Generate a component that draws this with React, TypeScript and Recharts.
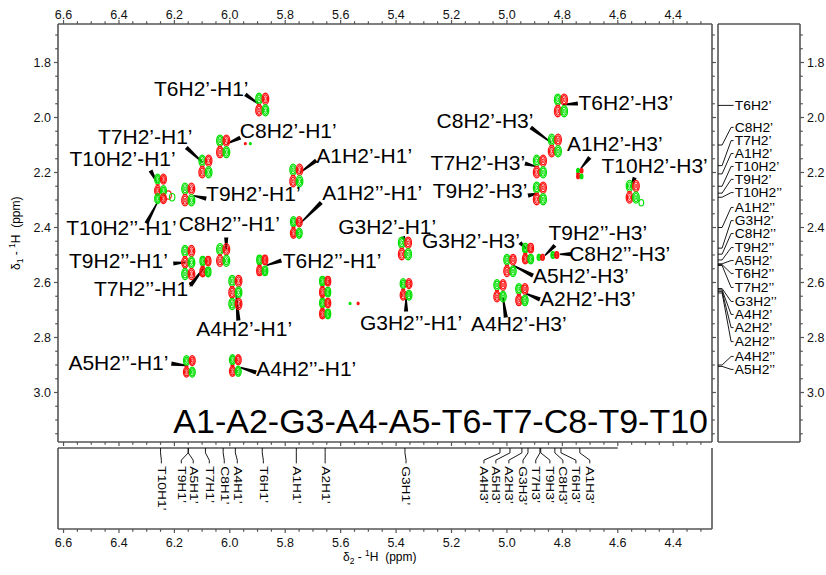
import React from "react";
import { ScatterChart, Scatter, XAxis, YAxis, ReferenceLine } from "recharts";

const FONT = "'Liberation Sans', Arial, Helvetica, sans-serif";
const AXIS = "#555";
const GREEN = "#00e000";
const RED = "#ff1010";

// axis ranges (ppm)
const X_DOMAIN: [number, number] = [4.26, 6.62];
const Y_DOMAIN: [number, number] = [1.66, 3.18];

// tick positions every 0.05 ppm, labels on the 0.2 ones
const xTicks = Array.from({ length: 47 }, (_, i) => +(6.6 - i * 0.05).toFixed(2));
const yTicks = Array.from({ length: 30 }, (_, i) => +(1.7 + i * 0.05).toFixed(2));

// cross peaks: H2'/H2'' (y) against H1' (x)
const h1Peaks = [
  { id: "T6H2'-H1'", x: 5.883, y: 1.953, rows: 2, amp: 1 },
  { id: "C8H2'-H1'", x: 6.024, y: 2.105, rows: 2, amp: 1 },
  { id: "T7H2'-H1'", x: 6.088, y: 2.178, rows: 2, amp: 1 },
  { id: "T10H2'-H1'", x: 6.25, y: 2.245, rows: 2, amp: 0.9 },
  { id: "T10H2''-H1'", x: 6.25, y: 2.295, rows: 1, amp: 0.9 },
  { id: "T9H2'-H1'", x: 6.15, y: 2.28, rows: 2, amp: 1 },
  { id: "A1H2'-H1'", x: 5.76, y: 2.211, rows: 2, amp: 1 },
  { id: "A1H2''-H1'", x: 5.76, y: 2.4, rows: 2, amp: 0.9 },
  { id: "G3H2'-H1'", x: 5.368, y: 2.476, rows: 2, amp: 1 },
  { id: "C8H2''-H1'", x: 6.024, y: 2.5, rows: 2, amp: 1 },
  { id: "T9H2''-H1'", x: 6.15, y: 2.527, rows: 3, amp: 1 },
  { id: "T7H2''-H1'", x: 6.088, y: 2.542, rows: 2, amp: 0.85 },
  { id: "T6H2''-H1'", x: 5.883, y: 2.538, rows: 2, amp: 0.85 },
  { id: "A4H2'-H1'", x: 5.98, y: 2.636, rows: 3, amp: 1 },
  { id: "A2H2'-H1'", x: 5.656, y: 2.655, rows: 4, amp: 0.85 },
  { id: "G3H2''-H1'", x: 5.364, y: 2.625, rows: 2, amp: 0.9 },
  { id: "A5H2''-H1'", x: 6.146, y: 2.905, rows: 2, amp: 0.9 },
  { id: "A4H2''-H1'", x: 5.98, y: 2.902, rows: 2, amp: 0.9 },
];

// cross peaks: H2'/H2'' (y) against H3' (x)
const h3Peaks = [
  { id: "T6H2'-H3'", x: 4.805, y: 1.956, rows: 2, amp: 1 },
  { id: "C8H2'-H3'", x: 4.827, y: 2.102, rows: 2, amp: 1 },
  { id: "A1H2'-H3'", x: 4.737, y: 2.204, rows: 2, amp: 0.4 },
  { id: "T7H2'-H3'", x: 4.881, y: 2.178, rows: 2, amp: 1 },
  { id: "T9H2'-H3'", x: 4.881, y: 2.276, rows: 2, amp: 1 },
  { id: "T10H2'-H3'", x: 4.546, y: 2.27, rows: 2, amp: 1 },
  { id: "G3H2'-H3'", x: 4.924, y: 2.495, rows: 2, amp: 0.85 },
  { id: "T9H2''-H3'", x: 4.878, y: 2.508, rows: 1, amp: 0.55 },
  { id: "C8H2''-H3'", x: 4.827, y: 2.5, rows: 1, amp: 0.6 },
  { id: "A5H2'-H3'", x: 4.989, y: 2.538, rows: 2, amp: 0.95 },
  { id: "A4H2'-H3'", x: 5.025, y: 2.63, rows: 2, amp: 0.95 },
  { id: "A2H2'-H3'", x: 4.946, y: 2.644, rows: 2, amp: 0.95 },
];

// weak single contours and noise
const weakSignals = [
  { x: 6.222, y: 2.282, c: "r", amp: 0.9 },
  { x: 6.208, y: 2.29, c: "g", amp: 0.8 },
  { x: 4.515, y: 2.31, c: "g", amp: 0.7 },
  { x: 5.944, y: 2.095, c: "r", amp: 0.25 },
  { x: 5.926, y: 2.095, c: "g", amp: 0.25 },
  { x: 5.566, y: 2.676, c: "g", amp: 0.25 },
  { x: 5.537, y: 2.676, c: "r", amp: 0.3 },
];

// peak annotations: text centre (lx, ly), leader from (sx, sy) to (ex, ey)
const peakNotes = [
  { text: "T6H2’-H1’", lx: 6.103, ly: 1.895, sx: 5.944, sy: 1.916, ex: 5.897, ey: 1.95 },
  { text: "C8H2’-H1’", lx: 5.789, ly: 2.047, sx: 5.962, sy: 2.073, ex: 6.01, ey: 2.095 },
  { text: "T7H2’-H1’", lx: 6.305, ly: 2.069, sx: 6.157, sy: 2.109, ex: 6.098, ey: 2.164 },
  { text: "T10H2’-H1’", lx: 6.387, ly: 2.15, sx: 6.286, sy: 2.193, ex: 6.266, ey: 2.232 },
  { text: "T10H2’’-H1’", lx: 6.391, ly: 2.4, sx: 6.301, sy: 2.385, ex: 6.262, ey: 2.31 },
  { text: "T9H2’-H1’", lx: 5.915, ly: 2.276, sx: 6.085, sy: 2.295, ex: 6.132, ey: 2.284 },
  { text: "A1H2’-H1’", lx: 5.515, ly: 2.138, sx: 5.688, sy: 2.156, ex: 5.746, ey: 2.2 },
  { text: "A1H2’’-H1’", lx: 5.486, ly: 2.273, sx: 5.67, sy: 2.309, ex: 5.746, ey: 2.385 },
  { text: "C8H2’’-H1’", lx: 6.002, ly: 2.385, sx: 6.013, sy: 2.436, ex: 6.013, ey: 2.48 },
  { text: "T9H2’’-H1’", lx: 6.402, ly: 2.52, sx: 6.204, sy: 2.531, ex: 6.16, ey: 2.527 },
  { text: "T7H2’’-H1’", lx: 6.312, ly: 2.622, sx: 6.142, sy: 2.611, ex: 6.095, ey: 2.549 },
  { text: "T6H2’’-H1’", lx: 5.631, ly: 2.52, sx: 5.814, sy: 2.52, ex: 5.868, ey: 2.538 },
  { text: "A4H2’-H1’", lx: 5.948, ly: 2.767, sx: 5.969, sy: 2.738, ex: 5.977, ey: 2.645 },
  { text: "G3H2’-H1’", lx: 5.432, ly: 2.396, sx: 5.375, sy: 2.433, ex: 5.368, ey: 2.451 },
  { text: "G3H2’’-H1’", lx: 5.346, ly: 2.745, sx: 5.364, sy: 2.705, ex: 5.364, ey: 2.658 },
  { text: "A5H2’’-H1’", lx: 6.402, ly: 2.891, sx: 6.211, sy: 2.895, ex: 6.157, ey: 2.902 },
  { text: "A4H2’’-H1’", lx: 5.724, ly: 2.913, sx: 5.905, sy: 2.927, ex: 5.962, ey: 2.909 },
  { text: "T6H2’-H3’", lx: 4.571, ly: 1.945, sx: 4.744, sy: 1.949, ex: 4.798, ey: 1.953 },
  { text: "C8H2’-H3’", lx: 5.079, ly: 2.011, sx: 4.914, sy: 2.036, ex: 4.841, ey: 2.091 },
  { text: "A1H2’-H3’", lx: 4.611, ly: 2.095, sx: 4.701, sy: 2.145, ex: 4.733, ey: 2.185 },
  { text: "T7H2’-H3’", lx: 5.105, ly: 2.164, sx: 4.935, sy: 2.167, ex: 4.896, ey: 2.178 },
  { text: "T9H2’-H3’", lx: 5.097, ly: 2.265, sx: 4.924, sy: 2.284, ex: 4.888, ey: 2.276 },
  { text: "T10H2’-H3’", lx: 4.467, ly: 2.175, sx: 4.539, sy: 2.218, ex: 4.553, ey: 2.255 },
  { text: "G3H2’-H3’", lx: 5.13, ly: 2.447, sx: 4.953, sy: 2.455, ex: 4.932, ey: 2.476 },
  { text: "T9H2’’-H3’", lx: 4.672, ly: 2.417, sx: 4.827, sy: 2.465, ex: 4.863, ey: 2.502 },
  { text: "C8H2’’-H3’", lx: 4.593, ly: 2.496, sx: 4.769, sy: 2.497, ex: 4.809, ey: 2.497 },
  { text: "A5H2’-H3’", lx: 4.733, ly: 2.575, sx: 4.906, sy: 2.575, ex: 4.978, ey: 2.538 },
  { text: "A4H2’-H3’", lx: 4.957, ly: 2.749, sx: 5.004, sy: 2.727, ex: 5.014, ey: 2.655 },
  { text: "A2H2’-H3’", lx: 4.708, ly: 2.658, sx: 4.881, sy: 2.662, ex: 4.932, ey: 2.64 },
];

// 1D projection, side: H2'/H2'' shifts and where their labels sit
const sideNames = ["T6H2’", "C8H2’", "T7H2’", "A1H2’", "T10H2’", "T9H2’", "T10H2’’", "A1H2’’", "G3H2’", "C8H2’’",
  "T9H2’’", "A5H2’", "T6H2’’", "T7H2’’", "G3H2’’", "A4H2’", "A2H2’", "A2H2’’", "A4H2’’", "A5H2’’"];
const sideShifts = [1.956, 2.1, 2.175, 2.205, 2.25, 2.275, 2.29, 2.4, 2.475, 2.497,
  2.518, 2.532, 2.535, 2.538, 2.622, 2.627, 2.632, 2.638, 2.9, 2.905];
const sideLabelY = [1.956, 2.036, 2.084, 2.131, 2.178, 2.225, 2.273, 2.327, 2.375, 2.422,
  2.473, 2.52, 2.567, 2.618, 2.669, 2.716, 2.764, 2.815, 2.869, 2.916];

// 1D projection, bottom: H1'/H3' shifts and label positions
const bottomNames = ["T10H1’", "T9H1’", "A5H1’", "T7H1’", "C8H1’", "A4H1’", "T6H1’", "A1H1’", "A2H1’", "G3H1’",
  "A4H3’", "A5H3’", "A2H3’", "G3H3’", "T7H3’", "T9H3’", "C8H3’", "T6H3’", "A1H3’"];
const bottomShifts = [6.25, 6.15, 6.15, 6.088, 6.024, 5.98, 5.883, 5.76, 5.656, 5.368,
  5.025, 4.989, 4.946, 4.924, 4.881, 4.878, 4.827, 4.805, 4.737];
const bottomLabelX = [6.247, 6.175, 6.132, 6.074, 6.02, 5.973, 5.879, 5.76, 5.656, 5.364,
  5.083, 5.04, 4.993, 4.942, 4.896, 4.845, 4.798, 4.751, 4.701];

const sidePoints = sideNames.map((text, i) => ({ x: 0.205, y: sideLabelY[i], text }));
const bottomPoints = bottomNames.map((text, i) => ({ x: bottomLabelX[i], y: 0.775, text }));
const notePoints = peakNotes.map((n) => ({ x: n.lx, y: n.ly, text: n.text }));

const PeakShape = (p: any) => {
  const { cx, cy, payload } = p;
  if (cx == null || cy == null) return <g />;
  const { rows, amp } = payload;
  const gap = 11.5 * Math.min(1, amp + 0.1);
  const half = 3.2 * Math.max(amp, 0.55);
  const out: any[] = [];
  for (let r = 0; r < rows; r++) {
    const yy = cy + (r - (rows - 1) / 2) * gap;
    for (let c = 0; c < 2; c++) {
      const xx = cx + (c ? half : -half);
      const col = (r + c) % 2 === 0 ? GREEN : RED;
      out.push(<ellipse key={`${r}-${c}-a`} cx={xx} cy={yy} rx={3.3 * amp} ry={5.6 * amp} fill="none" stroke={col} strokeWidth={1.3} />);
      out.push(<ellipse key={`${r}-${c}-b`} cx={xx} cy={yy} rx={2.1 * amp} ry={4 * amp} fill="none" stroke={col} strokeWidth={1.2} />);
      out.push(<ellipse key={`${r}-${c}-c`} cx={xx} cy={yy} rx={0.9 * amp} ry={2.2 * amp} fill="none" stroke={col} strokeWidth={1} />);
    }
    if (r < rows - 1) {
      out.push(<line key={`${r}-d`} x1={cx - half - 2} x2={cx - half + 2} y1={yy + gap / 2} y2={yy + gap / 2} stroke={RED} strokeWidth={1.4} />);
    }
  }
  return <g>{out}</g>;
};

const WeakShape = (p: any) => {
  const { cx, cy, payload } = p;
  if (cx == null || cy == null) return <g />;
  const col = payload.c === "r" ? RED : GREEN;
  const a = payload.amp;
  return <ellipse cx={cx} cy={cy} rx={Math.max(3.4 * a, 1)} ry={Math.max(4.6 * a, 1)} fill={a < 0.4 ? col : "none"} stroke={col} strokeWidth={1.1} />;
};

const NoteText = (p: any) => (
  <text x={p.cx} y={p.cy} textAnchor="middle" dominantBaseline="central" fontSize={21} fontFamily={FONT} fill="#000">
    {p.payload.text}
  </text>
);

const SideText = (p: any) => (
  <text transform={`translate(${p.cx},${p.cy}) scale(1.15,1)`} x={0} y={0} dominantBaseline="central" fontSize={12} fontFamily={FONT} fill="#000">
    {p.payload.text}
  </text>
);

const BottomText = (p: any) => (
  <text transform={`translate(${p.cx},${p.cy}) rotate(90) scale(1.2,1)`} x={0} y={0} dominantBaseline="central" fontSize={11.5} fontFamily={FONT} fill="#000">
    {p.payload.text}
  </text>
);

const Wedge = (p: any) => {
  const { x1, y1, x2, y2 } = p;
  const dx = x2 - x1;
  const dy = y2 - y1;
  const L = Math.hypot(dx, dy) || 1;
  const nx = -dy / L;
  const ny = dx / L;
  const w1 = 2.1;
  const w2 = 0.7;
  const pts = [
    [x1 + nx * w1, y1 + ny * w1],
    [x2 + nx * w2, y2 + ny * w2],
    [x2 - nx * w2, y2 - ny * w2],
    [x1 - nx * w1, y1 - ny * w1],
  ];
  return <polygon points={pts.map((q) => q.join(",")).join(" ")} fill="#000" />;
};

const isMajor = (v: number) => Math.round(v * 100) % 20 === 0;

const Tick = ({ x, y, payload, side, label }: any) => {
  const v = payload.value;
  const major = isMajor(v);
  const len = major ? 4 : 2.8;
  const txt = v.toFixed(1);
  const common = { fontSize: 12.5, fontFamily: FONT, fill: "#111" };
  let line: number[] = [x, y, x, y];
  let t: any = null;
  if (side === "top") {
    line = [x, y, x, y - len];
    if (label && major) t = <text x={x} y={y - 5} textAnchor="middle" {...common}>{txt}</text>;
  } else if (side === "bottom") {
    line = [x, y, x, y + len];
    if (label && major) t = <text x={x} y={y + 18} textAnchor="middle" {...common}>{txt}</text>;
  } else if (side === "left") {
    line = [x, y, x - len, y];
    if (label && major) t = <text x={x - 7} y={y} textAnchor="end" dominantBaseline="central" {...common}>{txt}</text>;
  } else {
    line = [x, y, x + len, y];
    if (label && major) t = <text x={x + 7} y={y} textAnchor="start" dominantBaseline="central" {...common}>{txt}</text>;
  }
  return (
    <g>
      <line x1={line[0]} y1={line[1]} x2={line[2]} y2={line[3]} stroke={AXIS} strokeWidth={1.2} />
      {t}
    </g>
  );
};

const axisLine = { stroke: AXIS, strokeWidth: 1.6 };
const layer: React.CSSProperties = { position: "absolute", left: 0, top: 0 };

function MainPlot() {
  return (
    <div style={layer}>
      <ScatterChart width={826} height={575} margin={{ top: 0, right: 108, bottom: 128, left: 0 }}>
        <XAxis xAxisId="top" orientation="top" type="number" dataKey="x" domain={X_DOMAIN} reversed allowDataOverflow
          ticks={xTicks} interval={0} tickSize={0} tickMargin={0} tickLine={false} axisLine={axisLine} height={24}
          tick={(p: any) => <Tick {...p} side="top" label />} />
        <XAxis xAxisId="bot" orientation="bottom" type="number" dataKey="x" domain={X_DOMAIN} reversed allowDataOverflow
          ticks={xTicks} interval={0} tickSize={0} tickMargin={0} tickLine={false} axisLine={axisLine} height={5}
          tick={(p: any) => <Tick {...p} side="bottom" />} />
        <YAxis yAxisId="left" orientation="left" type="number" dataKey="y" domain={Y_DOMAIN} reversed allowDataOverflow
          ticks={yTicks} interval={0} tickSize={0} tickMargin={0} tickLine={false} axisLine={axisLine} width={58}
          tick={(p: any) => <Tick {...p} side="left" label />} />
        <YAxis yAxisId="right" orientation="right" type="number" dataKey="y" domain={Y_DOMAIN} reversed allowDataOverflow
          ticks={yTicks} interval={0} tickSize={0} tickMargin={0} tickLine={false} axisLine={axisLine} width={6}
          tick={(p: any) => <Tick {...p} side="right" />} />
        <Scatter xAxisId="top" yAxisId="left" data={weakSignals} shape={WeakShape} isAnimationActive={false} />
        <Scatter xAxisId="top" yAxisId="left" data={h1Peaks} shape={PeakShape} isAnimationActive={false} />
        <Scatter xAxisId="top" yAxisId="left" data={h3Peaks} shape={PeakShape} isAnimationActive={false} />
        {peakNotes.map((n, i) => (
          <ReferenceLine key={`lead-${i}`} xAxisId="top" yAxisId="left" ifOverflow="visible"
            segment={[{ x: n.sx, y: n.sy }, { x: n.ex, y: n.ey }]} shape={Wedge} />
        ))}
        <Scatter xAxisId="top" yAxisId="left" data={notePoints} shape={NoteText} isAnimationActive={false} />
      </ScatterChart>
    </div>
  );
}

function SidePanel() {
  return (
    <div style={layer}>
      <ScatterChart width={826} height={575} margin={{ top: 24, right: 0, bottom: 133, left: 718 }}>
        <XAxis xAxisId="s" type="number" dataKey="x" domain={[0, 1]} hide allowDataOverflow />
        <YAxis yAxisId="s" orientation="right" type="number" dataKey="y" domain={Y_DOMAIN} reversed allowDataOverflow
          ticks={yTicks} interval={0} tickSize={0} tickMargin={0} tickLine={false} axisLine={axisLine} width={26}
          tick={(p: any) => <Tick {...p} side="right" label />} />
        <ReferenceLine xAxisId="s" yAxisId="s" ifOverflow="visible" segment={[{ x: 0, y: Y_DOMAIN[0] }, { x: 1, y: Y_DOMAIN[0] }]} stroke={AXIS} strokeWidth={1.6} />
        <ReferenceLine xAxisId="s" yAxisId="s" ifOverflow="visible" segment={[{ x: 0, y: Y_DOMAIN[1] }, { x: 1, y: Y_DOMAIN[1] }]} stroke={AXIS} strokeWidth={1.6} />
        <ReferenceLine xAxisId="s" yAxisId="s" ifOverflow="visible" segment={[{ x: 0, y: Y_DOMAIN[0] }, { x: 0, y: Y_DOMAIN[1] }]} stroke={AXIS} strokeWidth={1.6} />
        {sideNames.map((_, i) => (
          <React.Fragment key={`sl-${i}`}>
            <ReferenceLine xAxisId="s" yAxisId="s" ifOverflow="visible" stroke="#000" strokeWidth={0.9}
              segment={[{ x: 0, y: sideShifts[i] }, { x: 0.05, y: sideShifts[i] }]} />
            <ReferenceLine xAxisId="s" yAxisId="s" ifOverflow="visible" stroke="#000" strokeWidth={0.9}
              segment={[{ x: 0.05, y: sideShifts[i] }, { x: 0.16, y: sideLabelY[i] }]} />
            <ReferenceLine xAxisId="s" yAxisId="s" ifOverflow="visible" stroke="#000" strokeWidth={0.9}
              segment={[{ x: 0.16, y: sideLabelY[i] }, { x: 0.19, y: sideLabelY[i] }]} />
          </React.Fragment>
        ))}
        <Scatter xAxisId="s" yAxisId="s" data={sidePoints} shape={SideText} isAnimationActive={false} />
      </ScatterChart>
    </div>
  );
}

function BottomPanel() {
  return (
    <div style={layer}>
      <ScatterChart width={826} height={575} margin={{ top: 448, right: 114, bottom: 16, left: 58 }}>
        <XAxis xAxisId="b" orientation="bottom" type="number" dataKey="x" domain={X_DOMAIN} reversed allowDataOverflow
          ticks={xTicks} interval={0} tickSize={0} tickMargin={0} tickLine={false} axisLine={axisLine} height={30}
          tick={(p: any) => <Tick {...p} side="bottom" label />} />
        <YAxis yAxisId="b" type="number" dataKey="y" domain={[0, 1]} hide allowDataOverflow />
        <ReferenceLine xAxisId="b" yAxisId="b" ifOverflow="visible" segment={[{ x: X_DOMAIN[1], y: 0 }, { x: X_DOMAIN[1], y: 1 }]} stroke={AXIS} strokeWidth={1.6} />
        <ReferenceLine xAxisId="b" yAxisId="b" ifOverflow="visible" segment={[{ x: X_DOMAIN[0], y: 0 }, { x: X_DOMAIN[0], y: 1 }]} stroke={AXIS} strokeWidth={1.6} />
        <ReferenceLine xAxisId="b" yAxisId="b" ifOverflow="visible" segment={[{ x: X_DOMAIN[1], y: 1 }, { x: 4.6, y: 1 }]} stroke={AXIS} strokeWidth={1.6} />
        {bottomNames.map((_, i) => (
          <React.Fragment key={`bl-${i}`}>
            <ReferenceLine xAxisId="b" yAxisId="b" ifOverflow="visible" stroke="#000" strokeWidth={0.9}
              segment={[{ x: bottomShifts[i], y: 1 }, { x: bottomShifts[i], y: 0.94 }]} />
            <ReferenceLine xAxisId="b" yAxisId="b" ifOverflow="visible" stroke="#000" strokeWidth={0.9}
              segment={[{ x: bottomShifts[i], y: 0.94 }, { x: bottomLabelX[i], y: 0.85 }]} />
            <ReferenceLine xAxisId="b" yAxisId="b" ifOverflow="visible" stroke="#000" strokeWidth={0.9}
              segment={[{ x: bottomLabelX[i], y: 0.85 }, { x: bottomLabelX[i], y: 0.81 }]} />
          </React.Fragment>
        ))}
        <Scatter xAxisId="b" yAxisId="b" data={bottomPoints} shape={BottomText} isAnimationActive={false} />
      </ScatterChart>
    </div>
  );
}

function Titles() {
  return (
    <svg width={826} height={575} style={{ ...layer, pointerEvents: "none" }}>
      <text x={708} y={433} textAnchor="end" fontSize={34} fontFamily={FONT} fill="#000">
        A1-A2-G3-A4-A5-T6-T7-C8-T9-T10
      </text>
      <text x={343} y={561} fontSize={12} fontFamily={FONT} fill="#000">
        δ<tspan dy={3} fontSize={8.5}>2</tspan><tspan dy={-3}>{"\u00a0-\u00a0"}</tspan>
        <tspan dy={-5} fontSize={8.5}>1</tspan><tspan dy={5}>{"H\u00a0\u00a0(ppm)"}</tspan>
      </text>
      <text transform="translate(20,270) rotate(-90)" fontSize={12} fontFamily={FONT} fill="#000">
        δ<tspan dy={3} fontSize={8.5}>1</tspan><tspan dy={-3}>{"\u00a0-\u00a0"}</tspan>
        <tspan dy={-5} fontSize={8.5}>1</tspan><tspan dy={5}>{"H\u00a0\u00a0(ppm)"}</tspan>
      </text>
    </svg>
  );
}

export default function App() {
  return (
    <div style={{ position: "absolute", left: 0, top: 0, width: 826, height: 575, background: "#fff", fontFamily: FONT }}>
      <MainPlot />
      <SidePanel />
      <BottomPanel />
      <Titles />
    </div>
  );
}
